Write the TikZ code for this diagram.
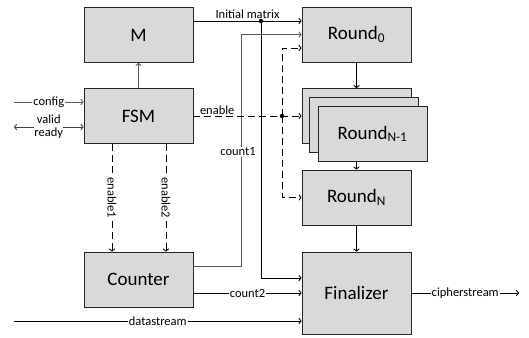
\documentclass[tikz,border=0pt]{standalone}
\usepackage{fontspec}
\setmainfont{Carlito}
\usepackage{tikz}
\usetikzlibrary{arrows.meta,positioning}
\newcommand{\blockFont}[0]{\fontsize{19}{21}\selectfont}
\newcommand{\wireFont}[0]{\fontsize{12.5}{13}\selectfont}

\begin{document}
\begin{tikzpicture}[x=1pt, y=-1pt, line width=0.9pt]
  \tikzset{block/.style={draw=black!85, fill=black!15, minimum width=109pt,
      minimum height=55pt, inner sep=0pt, font=\blockFont},
    wire/.style={-{To[length=3pt,width=6pt]}},
    dwire/.style={wire, dash pattern=on 7pt off 4pt},
    soft/.style={draw=black!65},
    lbl/.style={fill=white, inner sep=1pt, font=\wireFont},
    junction/.style={circle, fill, inner sep=0pt, minimum size=4.5pt}}
  \useasboundingbox (0,0) rectangle (529,337);

  % control side
  \node[block] (M) at (138.5,35) {M};
  \node[block] (fsm) at (138.5,116) {FSM};
  \node[block] (cnt) at (138.5,279.5) {Counter};

  % round pipeline
  \node[block] (r0) at (356.5,34.5) {Round\textsubscript{0}};
  \node[block] (stk0) at (356.5,116) {};
  \node[block] (stk1) at (363.5,125) {};
  \node[block] (stk2) at (372.5,134) {Round\textsubscript{N-1}};
  \node[block] (rN) at (356.5,197.5) {Round\textsubscript{N}};
  \node[block, minimum height=82pt] (fin) at (356.5,293) {Finalizer};

  \coordinate (split) at (261,21);
  \coordinate (bend1) at (241,34.5);
  \coordinate (en) at (282,116);
  \coordinate (cfg) at (14,102);
  \coordinate (vr) at (14,127);
  \coordinate (ds) at (14,321);
  \coordinate (cs) at (519,293);

  \draw[wire] (M.east |- split) -- node[above, font=\wireFont, yshift=-1pt] {Initial matrix} (r0.west |- split);
  \draw[wire] (split) |- ([yshift=15pt]fin.west);
  \node[junction] at (split) {};

  \draw[wire, soft] ([yshift=13.5pt]cnt.east) -| (bend1) -- (r0.west);
  \node[lbl] at (238,152) {count1};

  \draw[dwire] (fsm.east) -- node[above, pos=0.22, font=\wireFont, inner sep=1pt] {enable} (stk0.west);
  \draw[dwire] (en) |- ([yshift=-13.5pt]r0.west);
  \draw[dwire] (en) |- (rN.west);
  \node[junction] at (en) {};

  \draw[wire] (r0.south) -- (stk0.north);
  \draw[wire] (rN.north |- stk2.south) -- (rN.north);
  \draw[wire] (rN.south) -- (fin.north);
  \draw[wire, soft] (fsm.north) -- (M.south);

  \draw[wire, soft] (cfg) -- node[lbl] {config} (fsm.west |- cfg);
  \draw[{To[length=3pt,width=6pt]}-{To[length=3pt,width=6pt]}, draw=black!75] (vr) -- node[lbl, align=center, inner sep=0pt] {valid\\ready} (fsm.west |- vr);

  \draw[dwire] ([xshift=-26.5pt]fsm.south) -- node[lbl, rotate=-90] {enable1} ([xshift=-26.5pt]cnt.north);
  \draw[dwire] ([xshift=27.5pt]fsm.south) -- node[lbl, rotate=-90] {enable2} ([xshift=27.5pt]cnt.north);

  \draw[wire] ([yshift=-13.5pt]cnt.east) -- node[lbl] {count2} (fin.west);
  \draw[wire] (ds) -- node[lbl] {datastream} (fin.west |- ds);
  \draw[wire] (fin.east) -- node[lbl] {cipherstream} (cs);
\end{tikzpicture}
\end{document}
